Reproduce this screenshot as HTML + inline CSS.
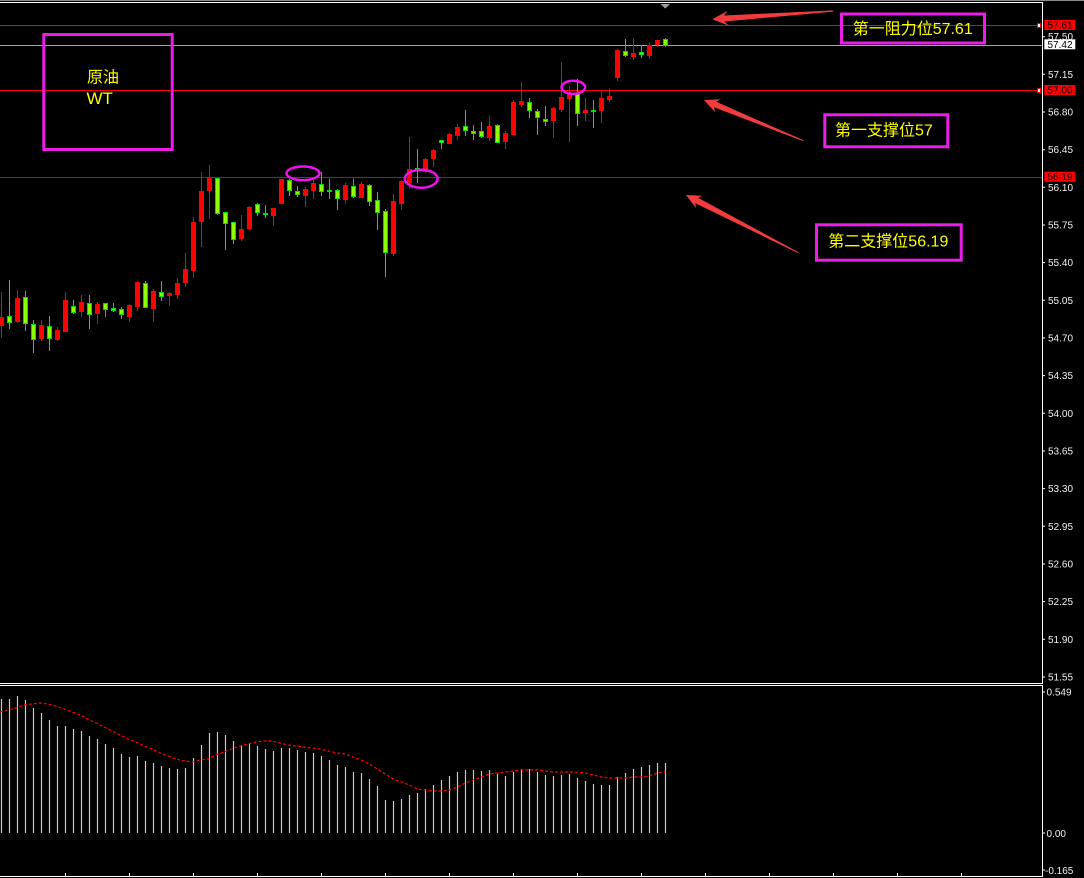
<!DOCTYPE html>
<html><head><meta charset="utf-8"><style>
html,body{margin:0;padding:0;background:#000;}
svg{display:block;}
.ax{font-family:"Liberation Sans","DejaVu Sans",sans-serif;font-size:10px;fill:#f0f0f0;}
.lb{font-family:"Liberation Sans","DejaVu Sans",sans-serif;font-size:10px;fill:#000;}
.cn{font-family:"Liberation Sans","Noto Sans CJK SC",sans-serif;font-size:16px;fill:#ffff00;}
</style></head><body>
<svg width="1084" height="878" viewBox="0 0 1084 878" xmlns="http://www.w3.org/2000/svg">
<rect width="1084" height="878" fill="#000"/>
<line x1="0" y1="0.5" x2="1084" y2="0.5" stroke="#8a8a8a"/>
<line x1="0" y1="2.5" x2="1043" y2="2.5" stroke="#fff"/>
<line x1="1042.5" y1="2" x2="1042.5" y2="684" stroke="#fff"/>
<line x1="0" y1="683.5" x2="1043" y2="683.5" stroke="#fff"/>
<line x1="0" y1="685.5" x2="1043" y2="685.5" stroke="#fff"/>
<line x1="1042.5" y1="685" x2="1042.5" y2="877" stroke="#fff"/>
<line x1="0" y1="876.5" x2="1043" y2="876.5" stroke="#fff"/>
<path d="M65.5 873V876M129.5 873V876M193.5 873V876M257.5 873V876M321.5 873V876M385.5 873V876M449.5 873V876M513.5 873V876M577.5 873V876M641.5 873V876M705.5 873V876M769.5 873V876M833.5 873V876M897.5 873V876M961.5 873V876" stroke="#fff"/>
<polygon points="660.5,4 670,4 665.3,8.5" fill="#a0a0a8"/>
<line x1="0" y1="25.5" x2="1037" y2="25.5" stroke="#ff0000"/>
<line x1="0" y1="45.5" x2="1042" y2="45.5" stroke="#a0a4a8"/>
<line x1="0" y1="90.5" x2="1037" y2="90.5" stroke="#ff0000"/>
<line x1="0" y1="177.5" x2="1042" y2="177.5" stroke="#e00000"/>
<rect x="1037.5" y="23.5" width="3" height="4" fill="#fff" stroke="#f00"/>
<rect x="1037.5" y="88.5" width="3" height="4" fill="#fff" stroke="#f00"/>
<g fill="#ff0000">
<rect x="1" y="292" width="1" height="46"/><rect x="-1" y="317" width="5" height="9"/>
<rect x="17" y="290" width="1" height="33"/><rect x="15" y="298" width="5" height="24"/>
<rect x="41" y="320" width="1" height="21"/><rect x="39" y="325" width="5" height="14"/>
<rect x="57" y="327" width="1" height="14"/><rect x="55" y="330" width="5" height="10"/>
<rect x="65" y="292" width="1" height="40"/><rect x="63" y="300" width="5" height="32"/>
<rect x="81" y="295" width="1" height="22"/><rect x="79" y="302" width="5" height="10"/>
<rect x="97" y="302" width="1" height="22"/><rect x="95" y="304" width="5" height="10"/>
<rect x="129" y="304" width="1" height="18"/><rect x="127" y="305" width="5" height="12"/>
<rect x="137" y="281" width="1" height="30"/><rect x="135" y="282" width="5" height="25"/>
<rect x="153" y="289" width="1" height="33"/><rect x="151" y="291" width="5" height="18"/>
<rect x="169" y="292" width="1" height="14"/><rect x="167" y="293" width="5" height="3"/>
<rect x="177" y="278" width="1" height="21"/><rect x="175" y="283" width="5" height="12"/>
<rect x="185" y="253" width="1" height="34"/><rect x="183" y="269" width="5" height="14"/>
<rect x="193" y="217" width="1" height="61"/><rect x="191" y="222" width="5" height="49"/>
<rect x="201" y="172" width="1" height="75"/><rect x="199" y="191" width="5" height="31"/>
<rect x="209" y="165" width="1" height="54"/><rect x="207" y="178" width="5" height="13"/>
<rect x="241" y="215" width="1" height="26"/><rect x="239" y="229" width="5" height="10"/>
<rect x="249" y="206" width="1" height="24"/><rect x="247" y="207" width="5" height="22"/>
<rect x="273" y="208" width="1" height="18"/><rect x="271" y="208" width="5" height="8"/>
<rect x="281" y="179" width="1" height="25"/><rect x="279" y="179" width="5" height="25"/>
<rect x="305" y="187" width="1" height="20"/><rect x="303" y="189" width="5" height="7"/>
<rect x="313" y="180" width="1" height="19"/><rect x="311" y="183" width="5" height="8"/>
<rect x="345" y="183" width="1" height="21"/><rect x="343" y="185" width="5" height="15"/>
<rect x="361" y="182" width="1" height="16"/><rect x="359" y="184" width="5" height="14"/>
<rect x="393" y="194" width="1" height="62"/><rect x="391" y="201" width="5" height="53"/>
<rect x="401" y="180" width="1" height="30"/><rect x="399" y="181" width="5" height="23"/>
<rect x="409" y="137" width="1" height="51"/><rect x="407" y="169" width="5" height="14"/>
<rect x="425" y="158" width="1" height="15"/><rect x="423" y="159" width="5" height="13"/>
<rect x="433" y="149" width="1" height="18"/><rect x="431" y="150" width="5" height="9"/>
<rect x="449" y="133" width="1" height="11"/><rect x="447" y="134" width="5" height="10"/>
<rect x="457" y="124" width="1" height="16"/><rect x="455" y="127" width="5" height="9"/>
<rect x="489" y="116" width="1" height="25"/><rect x="487" y="126" width="5" height="12"/>
<rect x="505" y="131" width="1" height="18"/><rect x="503" y="133" width="5" height="9"/>
<rect x="513" y="100" width="1" height="35"/><rect x="511" y="102" width="5" height="33"/>
<rect x="521" y="82" width="1" height="25"/><rect x="519" y="101" width="5" height="4"/>
<rect x="553" y="107" width="1" height="31"/><rect x="551" y="108" width="5" height="13"/>
<rect x="561" y="62" width="1" height="50"/><rect x="559" y="97" width="5" height="13"/>
<rect x="569" y="86" width="1" height="56"/><rect x="567" y="93" width="5" height="6"/>
<rect x="585" y="98" width="1" height="23"/><rect x="583" y="110" width="5" height="3"/>
<rect x="601" y="90" width="1" height="33"/><rect x="599" y="98" width="5" height="13"/>
<rect x="609" y="88" width="1" height="14"/><rect x="607" y="96" width="5" height="4"/>
<rect x="617" y="49" width="1" height="32"/><rect x="615" y="50" width="5" height="28"/>
<rect x="633" y="38" width="1" height="22"/><rect x="631" y="53" width="5" height="4"/>
<rect x="649" y="43" width="1" height="16"/><rect x="647" y="45" width="5" height="11"/>
<rect x="657" y="40" width="1" height="7"/><rect x="655" y="40" width="5" height="5"/>
</g>
<g fill="#00f000">
<rect x="9" y="280" width="1" height="49"/>
<rect x="25" y="291" width="1" height="40"/>
<rect x="33" y="320" width="1" height="33"/>
<rect x="49" y="316" width="1" height="35"/>
<rect x="73" y="300" width="1" height="14"/>
<rect x="89" y="295" width="1" height="34"/>
<rect x="105" y="303" width="1" height="14"/>
<rect x="113" y="303" width="1" height="9"/>
<rect x="121" y="307" width="1" height="12"/>
<rect x="145" y="281" width="1" height="27"/>
<rect x="161" y="281" width="1" height="20"/>
<rect x="217" y="178" width="1" height="37"/>
<rect x="225" y="212" width="1" height="38"/>
<rect x="233" y="222" width="1" height="22"/>
<rect x="257" y="203" width="1" height="13"/>
<rect x="265" y="205" width="1" height="13"/>
<rect x="289" y="179" width="1" height="17"/>
<rect x="297" y="186" width="1" height="11"/>
<rect x="321" y="172" width="1" height="24"/>
<rect x="329" y="179" width="1" height="20"/>
<rect x="337" y="189" width="1" height="21"/>
<rect x="353" y="179" width="1" height="19"/>
<rect x="369" y="184" width="1" height="22"/>
<rect x="377" y="192" width="1" height="38"/>
<rect x="385" y="209" width="1" height="68"/>
<rect x="417" y="149" width="1" height="34"/>
<rect x="441" y="140" width="1" height="9"/>
<rect x="465" y="110" width="1" height="26"/>
<rect x="473" y="125" width="1" height="15"/>
<rect x="481" y="122" width="1" height="16"/>
<rect x="497" y="124" width="1" height="19"/>
<rect x="529" y="98" width="1" height="20"/>
<rect x="537" y="109" width="1" height="26"/>
<rect x="545" y="106" width="1" height="20"/>
<rect x="577" y="79" width="1" height="47"/>
<rect x="593" y="100" width="1" height="28"/>
<rect x="625" y="39" width="1" height="18"/>
<rect x="641" y="45" width="1" height="13"/>
<rect x="665" y="38" width="1" height="9"/>
</g>
<g fill="#8cff00" stroke="#00e000" stroke-width="1">
<rect x="7.5" y="316.5" width="4" height="6"/>
<rect x="23.5" y="297.5" width="4" height="26"/>
<rect x="31.5" y="324.5" width="4" height="15"/>
<rect x="47.5" y="326.5" width="4" height="12"/>
<rect x="71.5" y="306.5" width="4" height="6"/>
<rect x="87.5" y="303.5" width="4" height="11"/>
<rect x="103.5" y="303.5" width="4" height="6"/>
<rect x="111.5" y="308.5" width="4" height="2"/>
<rect x="119.5" y="309.5" width="4" height="5"/>
<rect x="143.5" y="283.5" width="4" height="24"/>
<rect x="159.5" y="292.5" width="4" height="4"/>
<rect x="215.5" y="178.5" width="4" height="35"/>
<rect x="223.5" y="212.5" width="4" height="11"/>
<rect x="231.5" y="222.5" width="4" height="17"/>
<rect x="255.5" y="204.5" width="4" height="8"/>
<rect x="263.5" y="213.5" width="4" height="1"/>
<rect x="287.5" y="180.5" width="4" height="10"/>
<rect x="295.5" y="191.5" width="4" height="3"/>
<rect x="319.5" y="184.5" width="4" height="7"/>
<rect x="327.5" y="190.5" width="4" height="1"/>
<rect x="335.5" y="190.5" width="4" height="8"/>
<rect x="351.5" y="186.5" width="4" height="10"/>
<rect x="367.5" y="185.5" width="4" height="16"/>
<rect x="375.5" y="200.5" width="4" height="12"/>
<rect x="383.5" y="211.5" width="4" height="41"/>
<rect x="415.5" y="168.5" width="4" height="1"/>
<rect x="439.5" y="140.5" width="4" height="2"/>
<rect x="463.5" y="126.5" width="4" height="4"/>
<rect x="471.5" y="131.5" width="4" height="2"/>
<rect x="479.5" y="131.5" width="4" height="5"/>
<rect x="495.5" y="125.5" width="4" height="17"/>
<rect x="527.5" y="102.5" width="4" height="8"/>
<rect x="535.5" y="111.5" width="4" height="6"/>
<rect x="543.5" y="119.5" width="4" height="2"/>
<rect x="575.5" y="93.5" width="4" height="20"/>
<rect x="591.5" y="110.5" width="4" height="1"/>
<rect x="623.5" y="51.5" width="4" height="4"/>
<rect x="639.5" y="52.5" width="4" height="2"/>
<rect x="663.5" y="39.5" width="4" height="6"/>
</g>
<g fill="none" stroke="#f010f0" stroke-width="2.5">
<ellipse cx="303" cy="173.3" rx="16.5" ry="6.8"/>
<ellipse cx="421.2" cy="178.7" rx="16.4" ry="9"/>
<ellipse cx="573.3" cy="87.3" rx="11.8" ry="6.6"/>
</g>
<g fill="none" stroke="#ea1ee8" stroke-width="3">
<rect x="43.8" y="34.5" width="128.4" height="115"/>
<rect x="841.5" y="14" width="143" height="29"/>
<rect x="824.8" y="114.8" width="123" height="32"/>
<rect x="816.5" y="224.8" width="144.7" height="35.4"/>
</g>
<text class="cn" x="87" y="82.6">原油</text>
<text class="cn" x="86.5" y="104" style="font-size:17px">WT</text>
<text class="cn" x="852.7" y="34.2">第一阻力位57.61</text>
<text class="cn" x="835" y="135.4">第一支撑位57</text>
<text class="cn" x="828.3" y="246.6">第二支撑位56.19</text>
<g fill="#f23c3c">
<polygon points="712.3,19.3 727.8,10.7 724.1,15.5 833.3,10.4 833.3,11.6 724.5,21.5 728.8,25.7"/>
<polygon points="704,100 720.5,99.2 716.2,101.8 803.5,140.3 803.1,141.1 714,107.3 715.2,112.2"/>
<polygon points="686,195 702.5,195.7 698.1,197.8 798.5,252.3 798.1,253.1 695.3,203.2 696.1,208.1"/>
</g>
<path d="M1042 36.7h3M1042 74.3h3M1042 112h3M1042 149.7h3M1042 187.3h3M1042 225h3M1042 262.6h3M1042 300.3h3M1042 338h3M1042 375.6h3M1042 413.3h3M1042 451h3M1042 488.6h3M1042 526.3h3M1042 564h3M1042 601.6h3M1042 639.3h3M1042 677h3M1042 692h3M1042 833h3M1042 870h3" stroke="#fff"/>
<g class="ax">
<text x="1048" y="40.2">57.50</text>
<text x="1048" y="77.8">57.15</text>
<text x="1048" y="115.5">56.80</text>
<text x="1048" y="153.2">56.45</text>
<text x="1048" y="190.8">56.10</text>
<text x="1048" y="228.5">55.75</text>
<text x="1048" y="266.1">55.40</text>
<text x="1048" y="303.8">55.05</text>
<text x="1048" y="341.5">54.70</text>
<text x="1048" y="379.1">54.35</text>
<text x="1048" y="416.8">54.00</text>
<text x="1048" y="454.5">53.65</text>
<text x="1048" y="492.1">53.30</text>
<text x="1048" y="529.8">52.95</text>
<text x="1048" y="567.5">52.60</text>
<text x="1048" y="605.1">52.25</text>
<text x="1048" y="642.8">51.90</text>
<text x="1048" y="680.5">51.55</text>
<text x="1046.5" y="695.5">0.549</text>
<text x="1046.5" y="836.8">0.00</text>
<text x="1045" y="874">-0.165</text>
</g>
<rect x="1044.3" y="20" width="31" height="10" fill="#ff0000"/>
<text class="lb" x="1047.5" y="28.5">57.61</text>
<rect x="1044.3" y="39.3" width="31" height="10" fill="#ffffff"/>
<text class="lb" x="1047.5" y="47.8">57.42</text>
<rect x="1044.3" y="85" width="31" height="10" fill="#ff0000"/>
<text class="lb" x="1047.5" y="93.5">57.00</text>
<rect x="1044.3" y="171.7" width="31" height="10" fill="#ff0000"/>
<text class="lb" x="1047.5" y="180.2">56.19</text>
<path stroke="#c8c8c8" stroke-width="1.2" d="M1.5 699V833M9.5 699V833M17.5 696V833M25.5 700V833M33.5 708V833M41.5 713V833M49.5 720V833M57.5 726V833M65.5 726V833M73.5 729V833M81.5 731V833M89.5 736V833M97.5 739V833M105.5 744V833M113.5 748V833M121.5 754V833M129.5 757V833M137.5 756V833M145.5 761V833M153.5 763V833M161.5 766V833M169.5 768V833M177.5 769V833M185.5 768V833M193.5 758V833M201.5 745V833M209.5 733V833M217.5 732V833M225.5 735V833M233.5 741V833M241.5 745V833M249.5 744V833M257.5 746V833M265.5 749V833M273.5 751V833M281.5 748V833M289.5 748V833M297.5 750V833M305.5 752V833M313.5 753V833M321.5 756V833M329.5 760V833M337.5 765V833M345.5 767V833M353.5 772V833M361.5 773V833M369.5 779V833M377.5 786V833M385.5 800V833M393.5 801V833M401.5 799V833M409.5 795V833M417.5 793V833M425.5 789V833M433.5 785V833M441.5 780V833M449.5 776V833M457.5 772V833M465.5 770V833M473.5 770V833M481.5 771V833M489.5 770V833M497.5 774V833M505.5 776V833M513.5 772V833M521.5 769V833M529.5 769V833M537.5 772V833M545.5 775V833M553.5 776V833M561.5 775V833M569.5 774V833M577.5 778V833M585.5 781V833M593.5 784V833M601.5 785V833M609.5 785V833M617.5 777V833M625.5 773V833M633.5 769V833M641.5 767V833M649.5 765V833M657.5 763V833M665.5 763V833"/>
<polyline fill="none" stroke="#ff0000" stroke-width="1.2" stroke-dasharray="3 2" points="0,712 8,710 16,708 24,705 32,704 40,703 48,704 56,706 64,709 72,712 80,715 88,719 96,723 104,727 112,731 120,735 128,739 136,742 144,746 152,749 160,753 168,756 176,759 184,761 192,762 200,760 208,759 216,755 224,752 232,749 240,746 248,744 256,742 264,741 272,741 280,743 288,745 296,746 304,747 312,748 320,749 328,751 337.3,753 345.3,754 353.3,757 361.3,760 369.3,764 377.3,769 385.3,774 393.3,779 401.3,782 409.3,785 417.3,789 425.3,790 433.3,791 441.3,791 449.3,790 457.3,787 465.3,783 473.3,780 481.3,777 489.3,774 497.3,773 505.3,772 513.3,771 521.3,770 529.3,770 537.3,770 545.3,771 553.3,772 561.3,772 569.3,772 577.3,772 585.3,773 593.3,775 601.3,777 609.3,778 617.3,778 625.3,778 633.3,777 641.3,777 649.3,776 657.3,773 665.3,772"/>
</svg>
</body></html>
